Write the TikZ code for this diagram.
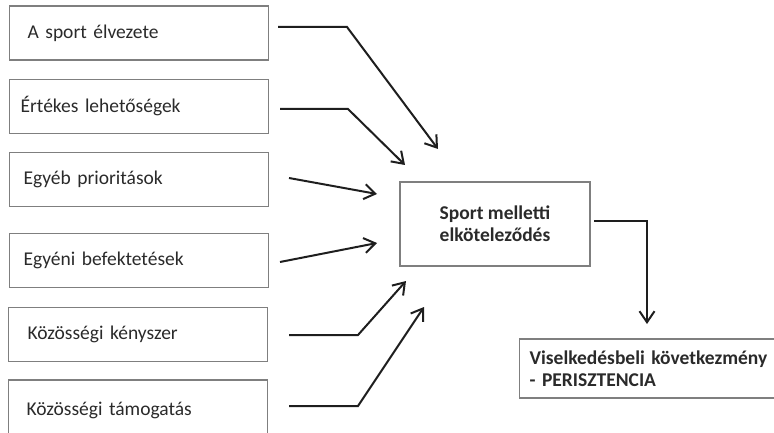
\documentclass[tikz,border=0pt]{standalone}
\usepackage{fontspec}
\setmainfont{Carlito}
\usetikzlibrary{arrows.meta}
\definecolor{boxgray}{HTML}{7F7F7F}
\definecolor{linecol}{HTML}{1E1E1E}
\definecolor{txtcol}{HTML}{2A2A2A}
\tikzset{
  lbox/.style={draw=boxgray, line width=1.2pt, minimum height=54pt, anchor=west,
    align=left, text=txtcol, font=\fontsize{19.5}{22}\selectfont},
  cbox/.style={draw=boxgray, line width=1.2pt, minimum width=190pt, minimum height=84pt,
    align=center, text=txtcol, font=\fontsize{19.5}{22}\selectfont\bfseries},
  conn/.style={draw=linecol, line width=2pt, -{Straight Barb[length=11pt,width=15pt]}}
}
\begin{document}
\begin{tikzpicture}[x=1pt,y=-1pt]
\useasboundingbox (0,0) rectangle (774,433);
% left boxes
\node[lbox, inner xsep=18pt, text width=223pt] (b1) at (9,33) {A sport élvezete};
\node[lbox, inner xsep=11pt, text width=237pt] (b2) at (9,106.5) {Értékes lehetőségek};
\node[lbox, inner xsep=14pt, text width=231pt] (b3) at (9,179.5) {Egyéb prioritások};
\node[lbox, inner xsep=14pt, text width=231pt] (b4) at (9,260.5) {Egyéni befektetések};
\node[lbox, inner xsep=19pt, text width=221pt] (b5) at (8,334.5) {Közösségi kényszer};
\node[lbox, inner xsep=18pt, text width=223pt, minimum height=60pt] (b6) at (8,410) {Közösségi támogatás};
% centre box
\node[cbox] (c) at (495,224) {Sport melletti\\elköteleződés};
% result box
\node[lbox, inner xsep=10pt, text width=244pt, minimum height=59pt, font=\fontsize{19.5}{22}\selectfont\bfseries] (r) at (519,368.5) {Viselkedésbeli következmény\\- PERISZTENCIA};
% connector endpoints
\coordinate (s1) at (278,27);   \coordinate (k1) at (347,27);  \coordinate (t1) at (438,149);
\coordinate (s2) at (280,109);  \coordinate (k2) at (348,109); \coordinate (t2) at (405,165);
\coordinate (s3) at (289,178);  \coordinate (t3) at (377,194);
\coordinate (s4) at (280,262);  \coordinate (t4) at (377,243);
\coordinate (s5) at (289,335);  \coordinate (k5) at (358,335); \coordinate (t5) at (406,281);
\coordinate (s6) at (289,406);  \coordinate (k6) at (358,406); \coordinate (t6) at (424,307);
\coordinate (s7) at (594,221);  \coordinate (k7) at (647,221); \coordinate (t7) at (647,324);
\draw[conn] (s1) -- (k1) -- (t1);
\draw[conn] (s2) -- (k2) -- (t2);
\draw[conn] (s3) -- (t3);
\draw[conn] (s4) -- (t4);
\draw[conn] (s5) -- (k5) -- (t5);
\draw[conn] (s6) -- (k6) -- (t6);
\draw[conn] (s7) -- (k7) -- (t7);
\end{tikzpicture}
\end{document}
